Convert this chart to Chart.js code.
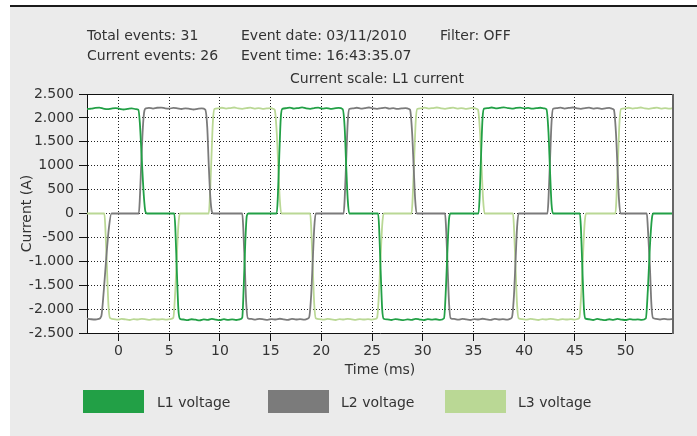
<!DOCTYPE html>
<html>
<head>
<meta charset="utf-8">
<script src="https://cdn.jsdelivr.net/npm/chart.js@4.4.1/dist/chart.umd.min.js"></script>
<style>
  html, body { margin:0; padding:0; background:#ffffff; width:697px; height:436px; overflow:hidden; }
  #panel { position:absolute; left:10px; top:5px; width:687px; height:431px; background:#ebebeb; border-top:2px solid #1a1a1a; box-sizing:border-box; }
  #c { position:absolute; left:0; top:0; }
  .t { position:absolute; font-family:'DejaVu Sans', sans-serif; font-size:14px; line-height:16px; color:#333; white-space:nowrap; }
  .box { position:absolute; width:61px; height:23px; }
</style>
</head>
<body>
<div id="panel"></div>
<canvas id="c" width="697" height="436"></canvas>
<div class="t" style="left:87px;top:26.5px">Total events: 31</div>
<div class="t" style="left:241px;top:26.5px">Event date: 03/11/2010</div>
<div class="t" style="left:440px;top:26.5px">Filter: OFF</div>
<div class="t" style="left:87px;top:47px">Current events: 26</div>
<div class="t" style="left:241px;top:47px">Event time: 16:43:35.07</div>
<div class="t" style="left:290px;top:70px">Current scale: L1 current</div>
<div id="legend"></div>
<script>
const seriesNames = ['L1 voltage', 'L2 voltage', 'L3 voltage'];
const seriesColors = ['#22a046', '#7b7b7b', '#bad895'];
const xTicks = [0, 5, 10, 15, 20, 25, 30, 35, 40, 45, 50];
const yTicks = [-2500, -2000, -1500, -1000, -500, 0, 500, 1000, 1500, 2000, 2500];
const yTickLabels = ['-2.500', '-2.000', '-1.500', '-1.000', '-500', '0', '500', '1000', '1.500', '2.000', '2.500'];

// [time (ms), current (A)]
const l1Points = [
[-3.11,2185],[-2.7,2192],[-2.3,2208],[-1.9,2214],[-1.5,2196],[-1.1,2182],[-0.7,2196],[-0.3,2206],[0.1,2190],[0.5,2176],[0.9,2188],[1.3,2200],[1.7,2183],[1.95,2170],
[2.1,1900],[2.3,1100],[2.5,350],[2.65,40],[2.8,0],[5.5,0],
[5.6,-300],[5.75,-1200],[5.9,-2000],[6.05,-2200],
[6.4,-2218],[6.8,-2232],[7.2,-2212],[7.6,-2222],[8.0,-2236],[8.4,-2214],[8.8,-2226],[9.2,-2206],[9.6,-2220],[10.0,-2232],[10.4,-2210],[10.8,-2226],[11.2,-2214],[11.6,-2228],[12.0,-2212],[12.2,-2180],
[12.35,-1500],[12.5,-600],[12.65,-50],[12.8,0],[15.6,0],
[15.7,300],[15.85,1200],[16.0,2000],[16.15,2190],
[16.5,2202],[16.9,2216],[17.3,2196],[17.7,2206],[18.1,2220],[18.5,2200],[18.9,2190],[19.3,2206],[19.7,2216],[20.1,2196],[20.5,2206],[20.9,2190],[21.3,2200],[21.7,2210],[22.1,2185],
[22.3,1800],[22.45,1000],[22.6,300],[22.75,0],[25.6,0],
[25.7,-300],[25.85,-1200],[26.0,-2000],[26.15,-2200],
[26.5,-2214],[26.9,-2228],[27.3,-2208],[27.7,-2220],[28.1,-2232],[28.5,-2214],[28.9,-2224],[29.3,-2204],[29.7,-2218],[30.1,-2230],[30.5,-2210],[30.9,-2222],[31.3,-2212],[31.7,-2226],[32.1,-2190],
[32.3,-1500],[32.45,-700],[32.6,-100],[32.75,0],[35.5,0],
[35.6,300],[35.75,1200],[35.9,2000],[36.05,2195],
[36.4,2206],[36.8,2218],[37.2,2200],[37.6,2210],[38.0,2222],[38.4,2204],[38.8,2194],[39.2,2208],[39.6,2216],[40.0,2198],[40.4,2208],[40.8,2192],[41.2,2204],[41.6,2212],[42.0,2200],[42.2,2180],
[42.4,1700],[42.55,900],[42.7,200],[42.85,0],[45.5,0],
[45.6,-300],[45.75,-1200],[45.9,-2000],[46.05,-2200],
[46.4,-2212],[46.8,-2228],[47.2,-2206],[47.6,-2220],[48.0,-2232],[48.4,-2212],[48.8,-2224],[49.2,-2206],[49.6,-2218],[50.0,-2230],[50.4,-2210],[50.8,-2222],[51.2,-2214],[51.6,-2226],[52.0,-2195],
[52.2,-1600],[52.4,-700],[52.6,-100],[52.75,0],[54.68,0]
];

const l2Points = [
[-3.11,-2200],[-2.7,-2212],[-2.3,-2218],[-1.95,-2205],[-1.7,-2150],
[-1.45,-1600],[-1.2,-900],[-0.95,-300],[-0.7,0],[2.0,0],
[2.1,300],[2.25,1100],[2.4,1800],[2.55,2150],[2.7,2200],
[3.0,2208],[3.4,2196],[3.8,2212],[4.2,2216],[4.6,2200],[5.0,2194],[5.4,2210],[5.8,2200],[6.2,2186],[6.6,2200],[7.0,2190],[7.4,2176],[7.8,2190],[8.2,2200],[8.55,2175],
[8.75,1800],[8.9,1000],[9.05,350],[9.2,40],[9.35,0],[12.2,0],
[12.3,-300],[12.45,-1100],[12.6,-1900],[12.75,-2190],
[13.1,-2206],[13.5,-2220],[13.9,-2204],[14.3,-2214],[14.7,-2226],[15.1,-2208],[15.5,-2218],[15.9,-2202],[16.3,-2214],[16.7,-2226],[17.1,-2206],[17.5,-2218],[17.9,-2208],[18.3,-2220],[18.65,-2200],[18.8,-2170],
[19.0,-1700],[19.15,-1000],[19.3,-300],[19.45,0],[22.2,0],
[22.3,300],[22.45,1100],[22.6,1900],[22.75,2185],
[23.1,2200],[23.5,2212],[23.9,2194],[24.3,2206],[24.7,2218],[25.1,2198],[25.5,2188],[25.9,2204],[26.3,2214],[26.7,2194],[27.1,2204],[27.5,2188],[27.9,2198],[28.3,2206],[28.6,2190],[28.75,2170],
[28.95,1700],[29.1,1000],[29.25,300],[29.4,0],[32.2,0],
[32.3,-300],[32.45,-1100],[32.6,-1900],[32.75,-2190],
[33.1,-2206],[33.5,-2222],[33.9,-2204],[34.3,-2216],[34.7,-2228],[35.1,-2208],[35.5,-2218],[35.9,-2202],[36.3,-2214],[36.7,-2226],[37.1,-2206],[37.5,-2218],[37.9,-2208],[38.3,-2220],[38.65,-2200],[38.8,-2170],
[39.0,-1700],[39.15,-1000],[39.3,-300],[39.45,0],[42.3,0],
[42.4,300],[42.55,1100],[42.7,1900],[42.85,2190],
[43.2,2204],[43.6,2214],[44.0,2196],[44.4,2208],[44.8,2218],[45.2,2200],[45.6,2190],[46.0,2206],[46.4,2214],[46.8,2196],[47.2,2206],[47.6,2190],[48.0,2200],[48.4,2208],[48.7,2190],[48.85,2170],
[49.05,1700],[49.2,1000],[49.35,300],[49.5,0],[52.1,0],
[52.2,-300],[52.4,-1100],[52.55,-1900],[52.7,-2185],
[53.0,-2204],[53.4,-2218],[53.8,-2206],[54.2,-2214],[54.68,-2204]
];

const l3Points = [
[-3.11,0],[-1.4,0],
[-1.3,-300],[-1.15,-1100],[-1.0,-1900],[-0.85,-2185],
[-0.5,-2210],[-0.1,-2222],[0.3,-2206],[0.7,-2216],[1.1,-2228],[1.5,-2208],[1.9,-2218],[2.3,-2204],[2.7,-2214],[3.1,-2226],[3.5,-2208],[3.9,-2218],[4.3,-2208],[4.7,-2220],[5.1,-2210],[5.4,-2185],
[5.6,-1600],[5.75,-900],[5.9,-250],[6.05,0],[8.9,0],
[9.0,300],[9.15,1100],[9.3,1900],[9.45,2185],
[9.8,2200],[10.2,2212],[10.6,2196],[11.0,2206],[11.4,2218],[11.8,2198],[12.2,2190],[12.6,2204],[13.0,2214],[13.4,2196],[13.8,2204],[14.2,2190],[14.6,2198],[15.0,2206],[15.25,2190],[15.4,2170],
[15.6,1700],[15.75,1000],[15.9,300],[16.05,0],[18.9,0],
[19.0,-300],[19.15,-1100],[19.3,-1900],[19.45,-2190],
[19.8,-2208],[20.2,-2222],[20.6,-2204],[21.0,-2216],[21.4,-2228],[21.8,-2208],[22.2,-2218],[22.6,-2204],[23.0,-2214],[23.4,-2226],[23.8,-2208],[24.2,-2218],[24.6,-2208],[25.0,-2220],[25.35,-2205],[25.5,-2180],
[25.7,-1600],[25.85,-900],[26.0,-250],[26.15,0],[28.9,0],
[29.0,300],[29.15,1100],[29.3,1900],[29.45,2185],
[29.8,2200],[30.2,2214],[30.6,2196],[31.0,2206],[31.4,2218],[31.8,2200],[32.2,2190],[32.6,2204],[33.0,2214],[33.4,2196],[33.8,2206],[34.2,2190],[34.6,2200],[35.0,2208],[35.3,2190],[35.45,2170],
[35.65,1700],[35.8,1000],[35.95,300],[36.1,0],[38.9,0],
[39.0,-300],[39.15,-1100],[39.3,-1900],[39.45,-2190],
[39.8,-2208],[40.2,-2222],[40.6,-2204],[41.0,-2216],[41.4,-2228],[41.8,-2208],[42.2,-2218],[42.6,-2204],[43.0,-2214],[43.4,-2226],[43.8,-2208],[44.2,-2218],[44.6,-2208],[45.0,-2220],[45.3,-2205],[45.45,-2180],
[45.65,-1600],[45.8,-900],[45.95,-250],[46.1,0],[49.0,0],
[49.1,300],[49.25,1100],[49.4,1900],[49.55,2185],
[49.9,2200],[50.3,2212],[50.7,2196],[51.1,2206],[51.5,2218],[51.9,2198],[52.3,2190],[52.7,2204],[53.1,2214],[53.5,2196],[53.9,2204],[54.3,2194],[54.68,2200]
];

const seriesData = [l1Points, l2Points, l3Points];

// HTML legend
const legendPos = [{box:83, text:157}, {box:268, text:341}, {box:445, text:518}];
const legendEl = document.getElementById('legend');
seriesNames.forEach((name, i) => {
  const b = document.createElement('div');
  b.className = 'box';
  b.style.left = legendPos[i].box + 'px';
  b.style.top = '390px';
  b.style.background = seriesColors[i];
  legendEl.appendChild(b);
  const t = document.createElement('div');
  t.className = 't';
  t.style.left = legendPos[i].text + 'px';
  t.style.top = '394px';
  t.textContent = name;
  legendEl.appendChild(t);
});

const areaBg = {
  id: 'areaBg',
  beforeDraw(chart) {
    const {ctx, chartArea: a} = chart;
    ctx.save();
    ctx.fillStyle = '#ffffff';
    ctx.fillRect(a.left, a.top, a.right - a.left, a.bottom - a.top);
    ctx.restore();
  }
};
const frame = {
  id: 'frame',
  afterDraw(chart) {
    const {ctx, chartArea: a} = chart;
    ctx.save();
    ctx.strokeStyle = '#111';
    ctx.lineWidth = 1;
    ctx.beginPath();
    ctx.moveTo(a.left, Math.round(a.top) + 0.5);
    ctx.lineTo(a.right, Math.round(a.top) + 0.5);
    ctx.stroke();
    ctx.strokeStyle = '#666';
    ctx.lineWidth = 2;
    ctx.beginPath();
    ctx.moveTo(Math.round(a.right), a.top);
    ctx.lineTo(Math.round(a.right), a.bottom + 1);
    ctx.stroke();
    ctx.restore();
  }
};

const fontSpec = {family: "'DejaVu Sans', sans-serif", size: 14};

new Chart(document.getElementById('c'), {
  type: 'line',
  data: {
    datasets: seriesNames.map((name, i) => ({
      label: name,
      data: seriesData[i],
      borderColor: seriesColors[i],
      backgroundColor: seriesColors[i],
      borderWidth: 1.8,
      pointRadius: 0,
      fill: false,
      cubicInterpolationMode: 'monotone'
    }))
  },
  options: {
    responsive: false,
    animation: false,
    devicePixelRatio: 1,
    layout: {padding: {left: 0, top: 94, right: 24, bottom: 57}},
    plugins: {legend: {display: false}, tooltip: {enabled: false}},
    scales: {
      x: {
        type: 'linear',
        min: -3.11,
        max: 54.68,
        afterBuildTicks: s => { s.ticks = xTicks.map(v => ({value: v})); },
        afterFit: s => { s.height = 46; },
        grid: {color: '#222', lineWidth: 1, drawTicks: true, tickLength: 8, tickColor: '#111', tickWidth: 1, tickBorderDash: []},
        border: {display: true, color: '#111', width: 1, dash: [1, 2]},
        ticks: {padding: 2, color: '#333', font: fontSpec, maxRotation: 0, autoSkip: false},
        title: {display: true, text: 'Time (ms)', color: '#333', font: fontSpec, padding: {top: 0, bottom: 0}}
      },
      y: {
        type: 'linear',
        min: -2500,
        max: 2500,
        afterBuildTicks: s => { s.ticks = yTicks.map(v => ({value: v})); },
        afterFit: s => { s.width = 87; },
        grid: {color: '#222', lineWidth: 1, drawTicks: true, tickLength: 8, tickColor: '#111', tickWidth: 1, tickBorderDash: []},
        border: {display: true, color: '#111', width: 1, dash: [1, 2]},
        ticks: {padding: 5, color: '#333', font: fontSpec, autoSkip: false,
          callback: v => { const k = yTicks.indexOf(v); return k >= 0 ? yTickLabels[k] : ''; }},
        title: {display: true, text: 'Current (A)', color: '#333', font: fontSpec, padding: {top: 18.6, bottom: 0}}
      }
    }
  },
  plugins: [areaBg, frame]
});
</script>
</body>
</html>
